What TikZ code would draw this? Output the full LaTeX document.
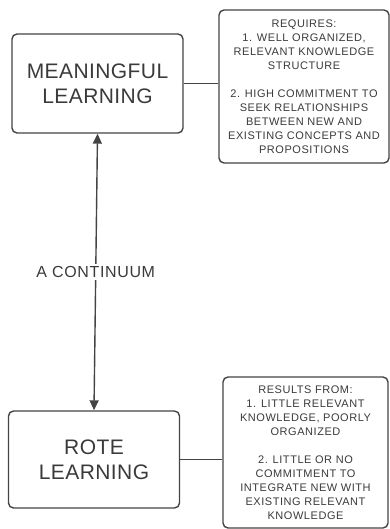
\documentclass[tikz,border=0pt]{standalone}
\usepackage{fontspec}
\setmainfont{Liberation Sans}
\usetikzlibrary{arrows.meta}
\definecolor{ink}{HTML}{3A3A3A}
\definecolor{rule}{HTML}{444444}
\tikzset{
  bigbox/.style={draw=rule, line width=1.4pt, rounded corners=5pt,
    minimum width=171pt, align=center, text=ink,
    font=\fontsize{21}{25}\selectfont\addfontfeature{LetterSpace=2}, inner sep=0pt},
  notebox/.style={draw=rule, line width=1.4pt, rounded corners=5pt,
    align=center, text=ink,
    font=\fontsize{11}{14}\selectfont\addfontfeature{LetterSpace=5}, inner sep=0pt},
  link/.style={draw=rule, line width=1.4pt},
  bothtips/.style={{Triangle[length=10pt,width=9pt]}-{Triangle[length=10pt,width=9pt]}},
  midlabel/.style={fill=white, text=ink,
    font=\fontsize{16}{18}\selectfont\addfontfeature{LetterSpace=4}, inner sep=2pt}
}
\begin{document}
\begin{tikzpicture}[x=1pt,y=1pt]
\useasboundingbox (0,0) rectangle (390,-529);

\node[bigbox, minimum height=99pt] (mean) at (97.5,-83.5)
  {MEANINGFUL\\LEARNING};
\node[notebox, minimum width=170pt, minimum height=153pt] (req) at (304,-86.5)
  {REQUIRES:\\1. WELL ORGANIZED,\\RELEVANT KNOWLEDGE\\STRUCTURE\\[14pt]
   2. HIGH COMMITMENT TO\\SEEK RELATIONSHIPS\\BETWEEN NEW AND\\
   EXISTING CONCEPTS AND\\PROPOSITIONS};

\node[bigbox, minimum height=97pt] (rote) at (94,-459.5)
  {ROTE\\LEARNING};
\node[notebox, minimum width=165pt, minimum height=151pt] (res) at (305.5,-452.5)
  {RESULTS FROM:\\1. LITTLE RELEVANT\\KNOWLEDGE, POORLY\\ORGANIZED\\[14pt]
   2. LITTLE OR NO\\COMMITMENT TO\\INTEGRATE NEW WITH\\
   EXISTING RELEVANT\\KNOWLEDGE};

% links from each box to its notes
\draw[link] (mean.east) -- (mean.east -| req.west);
\draw[link] (rote.east) -- (rote.east -| res.west);

% the continuum between the two kinds of learning
\draw[link, bothtips] (mean.south) -- (rote.north)
  node[midway, midlabel] (cont) {A CONTINUUM};
\end{tikzpicture}
\end{document}
